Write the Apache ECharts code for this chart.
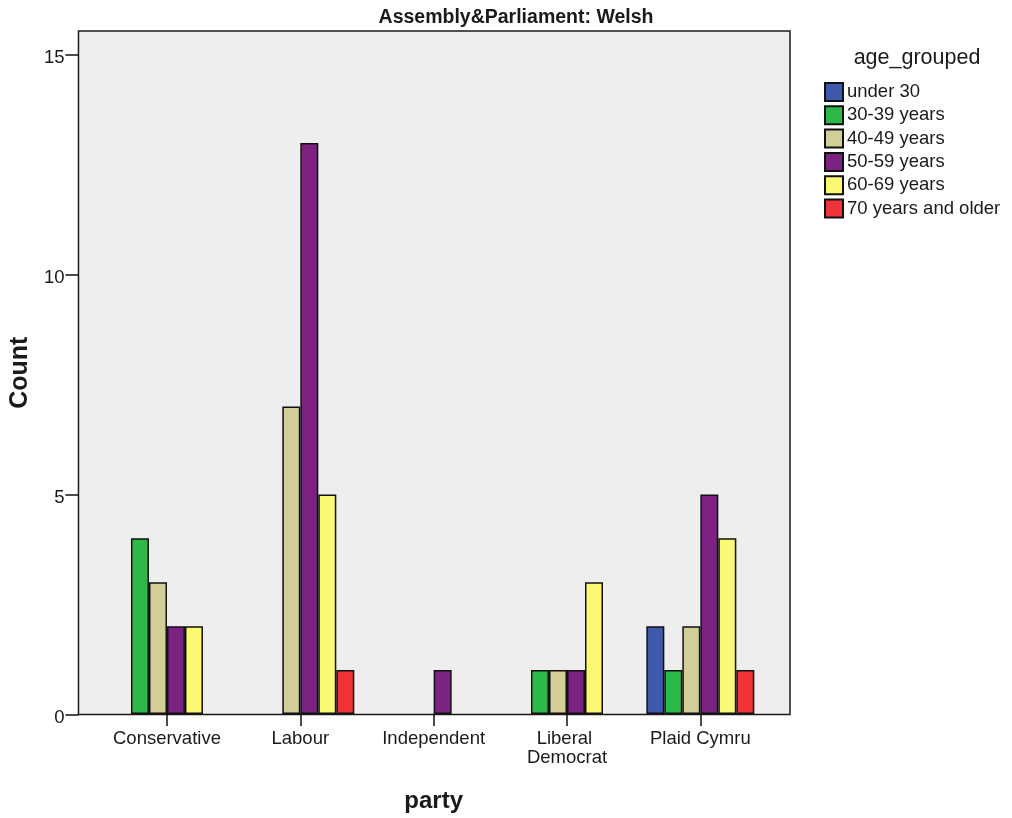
<!DOCTYPE html>
<html>
<head>
<meta charset="utf-8">
<script src="https://cdn.jsdelivr.net/npm/echarts@6/dist/echarts.min.js"></script>
<style>
html,body{margin:0;padding:0;background:#fff;}
#chart{width:1012px;height:818px;}
</style>
</head>
<body>
<div id="chart"></div>
<script>
var chartTitle = 'Assembly&Parliament: Welsh';
var legendTitle = 'age_grouped';
var xAxisName = 'party';
var yAxisName = 'Count';
var categories = ['Conservative', 'Labour', 'Independent', 'Liberal Democrat', 'Plaid Cymru'];
var seriesNames = ['under 30', '30-39 years', '40-49 years', '50-59 years', '60-69 years', '70 years and older'];
var seriesColors = ['#3E58AC', '#2EB848', '#D3CE97', '#7C2282', '#FBF873', '#EF3338'];
var under30 = [0, 0, 0, 0, 2];
var y30to39 = [4, 0, 0, 1, 1];
var y40to49 = [3, 7, 0, 1, 2];
var y50to59 = [2, 13, 1, 1, 5];
var y60to69 = [2, 5, 0, 3, 4];
var y70plus = [0, 1, 0, 0, 1];
var yTicks = [0, 5, 10, 15];
var yMax = 15.55;

var seriesValues = [under30, y30to39, y40to49, y50to59, y60to69, y70plus];
var FONT = 'Liberation Sans, Arial, sans-serif';
var TXT = '#1a1a1a';

var series = seriesNames.map(function (name, i) {
  return {
    name: name,
    type: 'bar',
    xAxisIndex: 1,
    yAxisIndex: 1,
    barWidth: 18,
    barGap: '0%',
    data: seriesValues[i].map(function (v) { return v === 0 ? '-' : v; }),
    itemStyle: { color: seriesColors[i], borderColor: '#111', borderWidth: 1.5 },
    emphasis: { disabled: true }
  };
});

var chart = echarts.init(document.getElementById('chart'), null, { renderer: 'canvas' });
chart.setOption({
  animation: false,
  backgroundColor: '#ffffff',
  textStyle: { fontFamily: FONT },
  title: [
    { text: chartTitle, left: 516, top: 8, padding: 0, textAlign: 'center',
      textStyle: { fontFamily: FONT, fontSize: 19.5, fontWeight: 'bold', color: TXT } },
    { text: legendTitle, left: 917, top: 47, padding: 0, textAlign: 'center',
      textStyle: { fontFamily: FONT, fontSize: 21.5, fontWeight: 'normal', color: TXT } }
  ],
  legend: {
    orient: 'vertical',
    left: 824,
    top: 82,
    padding: 0,
    icon: 'rect',
    itemWidth: 18,
    itemHeight: 18,
    itemGap: 3.3,
    selectedMode: false,
    data: seriesNames,
    textStyle: { fontFamily: FONT, fontSize: 18.5, color: TXT, lineHeight: 18, padding: [0, 0, 0, -1] }
  },
  grid: [
    { left: 77, top: 31, width: 713, height: 683.5, show: true, backgroundColor: '#eeeeee', borderColor: '#1a1a1a', borderWidth: 1.5 },
    { left: 100.3, top: 31, width: 666.7, height: 683.5, show: false }
  ],
  xAxis: [
    { type: 'value', gridIndex: 0, show: false, min: 0, max: 1 },
    {
      type: 'category', gridIndex: 1, data: categories,
      name: xAxisName, nameLocation: 'middle', nameGap: 75,
      nameTextStyle: { fontFamily: FONT, fontSize: 24, fontWeight: 'bold', color: TXT },
      axisLine: { show: false },
      axisTick: { show: true, alignWithLabel: true, length: 12, lineStyle: { color: '#111', width: 1.5 } },
      axisLabel: { interval: 0, margin: 15, fontFamily: FONT, fontSize: 18.5, color: TXT, lineHeight: 19.5, width: 120, overflow: 'break' },
      splitLine: { show: false }
    }
  ],
  yAxis: [
    {
      type: 'value', gridIndex: 0, min: 0, max: yMax, interval: 5,
      name: yAxisName, nameLocation: 'middle', nameGap: 41,
      nameTextStyle: { fontFamily: FONT, fontSize: 25, fontWeight: 'bold', color: TXT },
      axisLine: { show: false },
      axisTick: { show: true, length: 13, customValues: yTicks, lineStyle: { color: '#111', width: 1.5 } },
      axisLabel: { margin: 14, customValues: yTicks, fontFamily: FONT, fontSize: 18.5, color: TXT, verticalAlign: 'top', lineHeight: 6 },
      splitLine: { show: false }
    },
    { type: 'value', gridIndex: 1, min: 0, max: yMax, interval: 5, show: false, splitLine: { show: false } }
  ],
  series: series
});
</script>
</body>
</html>
